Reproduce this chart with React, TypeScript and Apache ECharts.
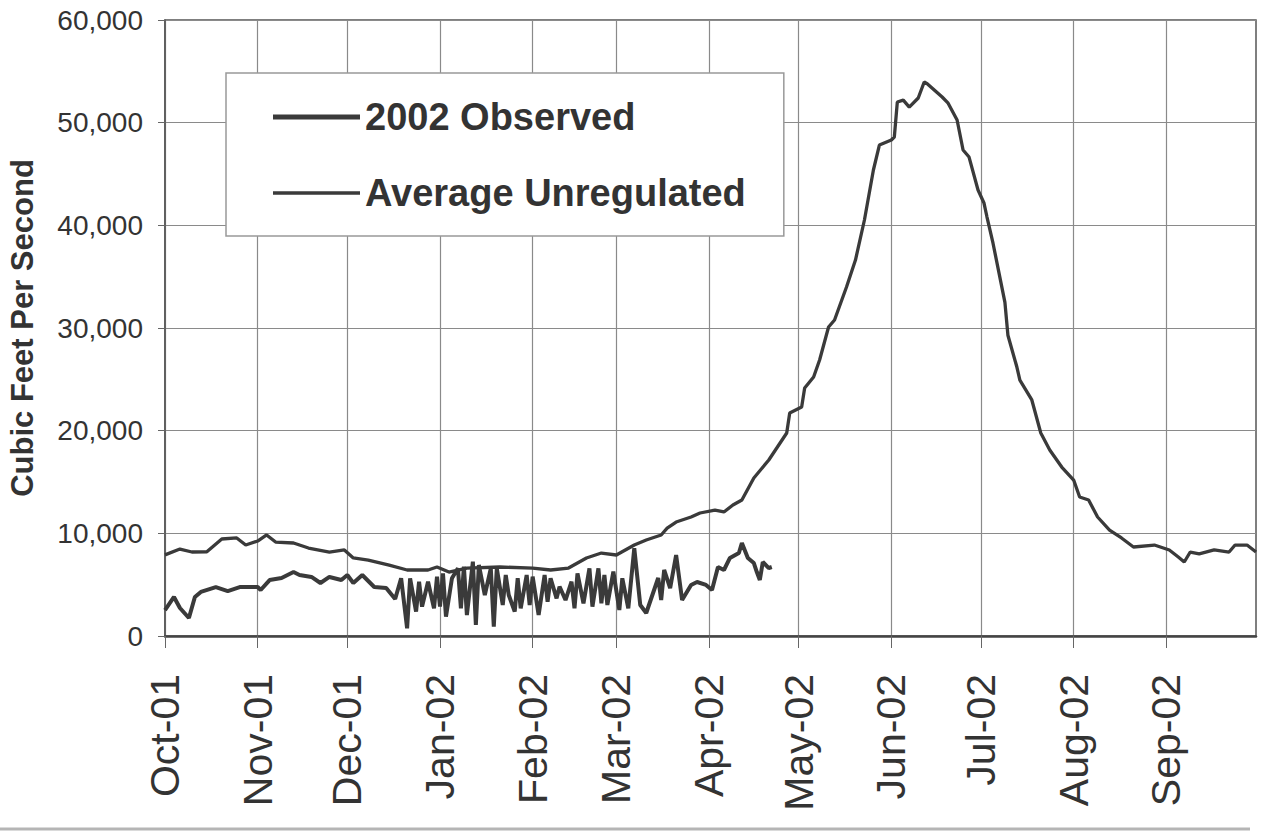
import React, { useEffect, useRef } from "react";
import * as echarts from "echarts";

// Month tick labels and the day index (from Oct 1, 2001) where each month starts
const monthLabels = ["Oct-01", "Nov-01", "Dec-01", "Jan-02", "Feb-02", "Mar-02", "Apr-02", "May-02", "Jun-02", "Jul-02", "Aug-02", "Sep-02"];
const monthStartDays = [0, 31, 61, 92, 123, 151, 182, 212, 243, 273, 304, 335];
const totalDays = 365;

// Average Unregulated flow (cfs), read at selected days
const avgDays = [0, 5, 9, 14, 19, 24, 27, 31, 34, 37, 43, 48, 55, 60, 63, 68, 75, 81, 88, 91, 95, 101, 112, 123, 129, 135, 141, 146, 151, 157, 161, 166, 168, 171, 176, 179, 184, 187, 190, 193, 197, 202, 208, 209, 213, 214, 217, 219, 222, 224, 228, 231, 234, 237, 239, 243, 244, 245, 247, 249, 252, 254, 255, 260, 262, 265, 267, 269, 272, 274, 275, 277, 281, 282, 285, 286, 290, 293, 296, 300, 304, 306, 309, 312, 316, 320, 324, 331, 336, 339, 341, 343, 346, 351, 356, 358, 362, 365];
const avgVals = [7900, 8470, 8180, 8200, 9450, 9550, 8860, 9250, 9840, 9150, 9060, 8570, 8180, 8380, 7600, 7400, 6900, 6430, 6430, 6720, 6230, 6620, 6720, 6620, 6430, 6620, 7600, 8080, 7890, 8860, 9350, 9840, 10500, 11100, 11590, 11980, 12270, 12080, 12760, 13250, 15390, 17140, 19770, 21720, 22300, 24150, 25230, 26880, 30100, 30780, 33990, 36620, 40520, 45390, 47820, 48310, 48600, 52010, 52200, 51520, 52400, 53960, 53800, 52500, 51900, 50260, 47340, 46650, 43440, 42170, 40810, 38280, 32500, 29300, 26200, 24930, 22990, 19770, 18120, 16460, 15190, 13540, 13250, 11590, 10320, 9550, 8670, 8860, 8380, 7700, 7210, 8180, 8000, 8380, 8180, 8860, 8860, 8180];

// 2002 Observed flow (cfs), read at selected days
const obsDays = [0, 3, 5, 8, 10, 12, 17, 21, 25, 31, 32, 35, 39, 43, 45, 49, 52, 55, 59, 61, 63, 66, 70, 74, 77, 79, 81, 82, 84, 85, 86, 88, 90, 91, 92, 93, 94, 96, 98, 99, 100, 101, 103, 104, 105, 107, 109, 110, 111, 113, 114, 115, 117, 118, 119, 121, 122, 123, 125, 127, 128, 129, 131, 132, 134, 136, 137, 138, 140, 142, 143, 145, 146, 147, 148, 150, 152, 153, 155, 157, 159, 161, 165, 166, 167, 169, 171, 173, 176, 178, 181, 183, 185, 187, 189, 192, 193, 195, 197, 198, 199, 200, 202, 203];
const obsVals = [2530, 3800, 2730, 1750, 3800, 4290, 4770, 4380, 4770, 4770, 4480, 5450, 5650, 6230, 5940, 5750, 5160, 5750, 5450, 5940, 5160, 5940, 4770, 4670, 3600, 5620, 750, 5620, 2370, 5290, 2860, 5290, 2695, 5780, 2860, 6100, 1880, 5620, 6590, 2695, 6750, 2045, 7240, 1070, 6915, 3990, 6590, 910, 6590, 3020, 5940, 3990, 2370, 5620, 2695, 5940, 3020, 5780, 2045, 5940, 3345, 5620, 3670, 4805, 3505, 5290, 2695, 6100, 3180, 6590, 2860, 6590, 3180, 5940, 3020, 6265, 2530, 5620, 2695, 8540, 3020, 2240, 5650, 3510, 6430, 4670, 7890, 3510, 4970, 5260, 4970, 4480, 6720, 6430, 7600, 8080, 9060, 7600, 7110, 6230, 5450, 7210, 6620, 6720];

const yTicks = { min: 0, max: 60000, interval: 10000 };

const FONT = "'Liberation Sans', Arial, Helvetica, sans-serif";
const TEXT = "#333333";
const LINE = "#3a3a3a";
const GRID = "#8a8a8a";

// legend sample bars (thick for observed, thinner for average) inside a 100x20 box
const ICON_OBS = "path://M0,0L0.1,0L0,0.1Z M0,20L0.1,20L0,19.9Z M0,7H100V13H0Z";
const ICON_AVG = "path://M0,0L0.1,0L0,0.1Z M0,20L0.1,20L0,19.9Z M0,8H100V12H0Z";

export default function App() {
  const ref = useRef<HTMLDivElement>(null);

  useEffect(() => {
    if (!ref.current) return;
    const chart = echarts.init(ref.current, undefined, { renderer: "svg" });

    const categories: string[] = [];
    for (let d = 0; d <= totalDays; d++) {
      const k = monthStartDays.indexOf(d);
      categories.push(k >= 0 ? monthLabels[k] : "");
    }
    const isMonthStart = (i: number) => monthStartDays.indexOf(i) >= 0;

    chart.setOption({
      animation: false,
      backgroundColor: "#ffffff",
      grid: {
        left: 165,
        right: 9,
        top: 20,
        bottom: 199,
        show: true,
        borderColor: "#555555",
        borderWidth: 1.5,
        containLabel: false,
        outerBoundsMode: "none",
      },
      legend: {
        orient: "vertical",
        left: 226,
        top: 73,
        padding: [25, 38, 24, 47],
        itemWidth: 87,
        itemHeight: 20,
        itemGap: 38,
        backgroundColor: "#ffffff",
        borderColor: "#999999",
        borderWidth: 1.5,
        textStyle: { fontFamily: FONT, fontSize: 38, fontWeight: "bold", color: TEXT },
        data: [
          { name: "2002 Observed", icon: ICON_OBS },
          { name: "Average Unregulated", icon: ICON_AVG },
        ],
      },
      xAxis: {
        type: "category",
        data: categories,
        boundaryGap: false,
        axisLine: { show: true, lineStyle: { color: "#444444", width: 2.5 } },
        axisTick: { show: true, interval: (i: number) => isMonthStart(i), length: 12, lineStyle: { color: "#666666", width: 1 } },
        axisLabel: {
          interval: (i: number) => isMonthStart(i),
          rotate: 90,
          margin: 38,
          fontFamily: FONT,
          fontSize: 41,
          color: TEXT,
        },
        splitLine: { show: true, interval: (i: number) => isMonthStart(i), lineStyle: { color: GRID, width: 1.2 } },
      },
      yAxis: {
        type: "value",
        min: yTicks.min,
        max: yTicks.max,
        interval: yTicks.interval,
        name: "Cubic Feet Per Second",
        nameLocation: "middle",
        nameRotate: 90,
        nameGap: 127,
        nameTextStyle: { fontFamily: FONT, fontSize: 31, fontWeight: "bold", color: TEXT },
        axisLine: { show: true, lineStyle: { color: "#555555", width: 1.5 } },
        axisTick: { show: true, length: 7, lineStyle: { color: "#666666" } },
        axisLabel: {
          margin: 22,
          fontFamily: FONT,
          fontSize: 28,
          color: TEXT,
          formatter: (v: number) => v.toLocaleString("en-US"),
        },
        splitLine: { show: true, lineStyle: { color: GRID, width: 1.2 } },
      },
      series: [
        {
          name: "2002 Observed",
          type: "line",
          symbol: "none",
          data: obsDays.map((d, i) => [d, obsVals[i]]),
          lineStyle: { color: LINE, width: 4 },
          itemStyle: { color: LINE },
          z: 3,
        },
        {
          name: "Average Unregulated",
          type: "line",
          symbol: "none",
          data: avgDays.map((d, i) => [d, avgVals[i]]),
          lineStyle: { color: LINE, width: 3.3 },
          itemStyle: { color: LINE },
          z: 2,
        },
      ],
      graphic: [
        {
          type: "line",
          shape: { x1: 0, y1: 829, x2: 1250, y2: 829 },
          style: { stroke: "#b5b5b5", lineWidth: 3 },
        },
      ],
    });

    return () => chart.dispose();
  }, []);

  return (
    <div
      ref={ref}
      style={{ position: "fixed", left: 0, top: 0, width: 1265, height: 835, background: "#fff" }}
    />
  );
}
